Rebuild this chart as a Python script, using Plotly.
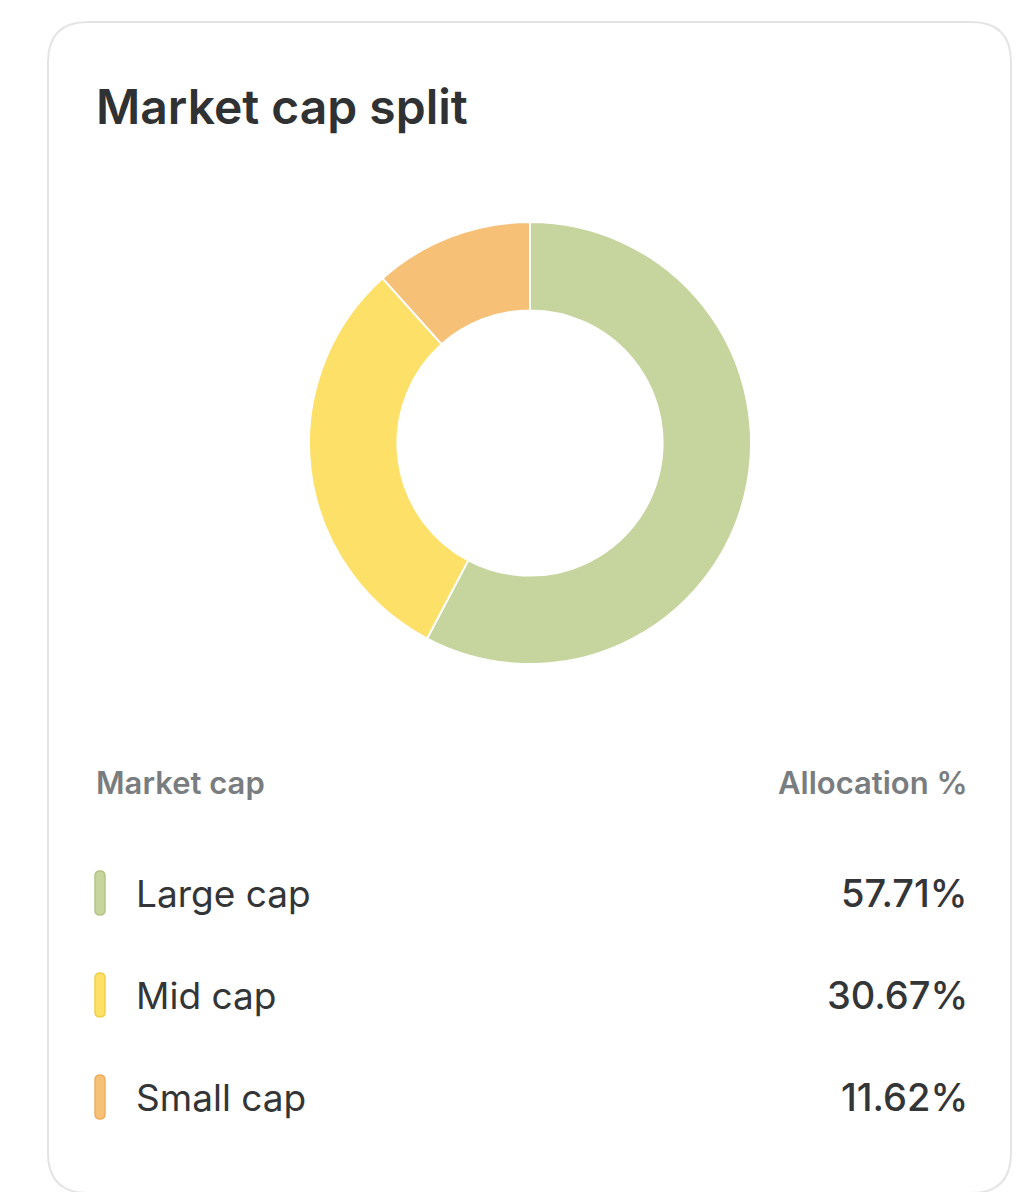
import plotly.graph_objects as go

# ---------------- data ----------------
labels = ["Large cap", "Mid cap", "Small cap"]
values = [57.71, 30.67, 11.62]
colors = ["#C6D49E", "#FDE068", "#F7C077"]
edge_colors = ["#B3C386", "#F2CF45", "#EDAE5E"]

title_text = "Market cap split"
col_left = "Market cap"
col_right = "Allocation %"

# ---------------- canvas helpers ----------------
W, H = 1005, 1184
OFF = 8  # default body margin of the page


def px(x):
    return (x - OFF) / W


def py(y):
    return 1 - (y - OFF) / H


def rounded_rect(x0, y0, x1, y1, r):
    # path in paper coords, pixel inputs
    rx, ry = r / W, r / H
    a, b, c, d = px(x0), py(y0), px(x1), py(y1)
    return (f"M {a + rx},{b} L {c - rx},{b} Q {c},{b} {c},{b - ry} "
            f"L {c},{d + ry} Q {c},{d} {c - rx},{d} "
            f"L {a + rx},{d} Q {a},{d} {a},{d + ry} "
            f"L {a},{b - ry} Q {a},{b} {a + rx},{b} Z")


fig = go.Figure()

fig.add_trace(go.Pie(
    labels=labels,
    values=values,
    hole=0.6,
    sort=False,
    direction="clockwise",
    rotation=0,
    marker=dict(colors=colors, line=dict(color="white", width=2)),
    textinfo="none",
    hoverinfo="label+percent",
    showlegend=False,
    domain=dict(x=[px(309), px(751)], y=[py(664), py(222)]),
))

shapes = [dict(type="path", xref="paper", yref="paper",
               path=rounded_rect(48, 22, 1011, 1193, 40),
               line=dict(color="#E4E4E4", width=2), fillcolor="rgba(0,0,0,0)",
               layer="below")]

annotations = [
    dict(text=title_text, x=px(94), y=py(106), xanchor="left", yanchor="middle",
         font=dict(family="Inter", size=48, color="#2F3133", weight=600)),
    dict(text=col_left, x=px(94), y=py(782), xanchor="left", yanchor="middle",
         font=dict(family="Inter", size=31, color="#7A7D80", weight=600)),
    dict(text=col_right, x=px(970), y=py(782), xanchor="right", yanchor="middle",
         font=dict(family="Inter", size=31, color="#7A7D80", weight=600)),
]

row_y = [893, 995, 1097]
for lab, val, col, ec, y in zip(labels, values, colors, edge_colors, row_y):
    shapes.append(dict(type="path", xref="paper", yref="paper",
                       path=rounded_rect(95, y - 22, 105, y + 22, 5),
                       fillcolor=col, line=dict(color=ec, width=1.5)))
    annotations.append(dict(text=lab, x=px(134), y=py(y), xanchor="left", yanchor="middle",
                            font=dict(family="Inter", size=37, color="#333537")))
    annotations.append(dict(text=f"{val:.2f}%", x=px(970), y=py(y), xanchor="right",
                            yanchor="middle",
                            font=dict(family="Inter", size=38, color="#333537", weight=500)))

for a in annotations:
    a.update(xref="paper", yref="paper", showarrow=False)

fig.update_layout(
    width=W, height=H,
    margin=dict(l=0, r=0, t=0, b=0),
    paper_bgcolor="white",
    plot_bgcolor="white",
    shapes=shapes,
    annotations=annotations,
)

fig.write_html("out.html")
